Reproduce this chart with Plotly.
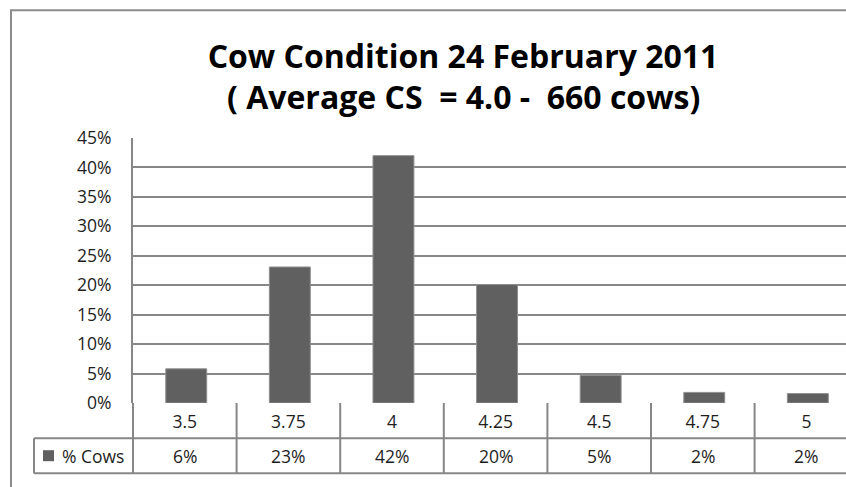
import plotly.graph_objects as go

# ---- data ----
categories = ["3.5", "3.75", "4", "4.25", "4.5", "4.75", "5"]
pct_cows = [5.8, 23.1, 42.0, 20.1, 4.7, 1.8, 1.6]
y_ticks = [0, 5, 10, 15, 20, 25, 30, 35, 40, 45]
series_name = "% Cows"
title_line1 = "Cow Condition 24 February 2011"
title_line2 = "( Average CS\u00a0 = 4.0 -\u00a0 660 cows)"

# ---- layout geometry (window pixels) ----
W, H = 846, 487
L, R, T, B = 133, 0, 137.8, 84.2
PW, PH = W - L - R, H - T - B
CELL = 103.6  # px per category


def px(x):
    return (x - L) / PW


def py(y):
    return (H - B - y) / PH


FONT = "Open Sans"
GRID = "#878787"
BAR = "#606060"
TXT = "#1e1e1e"
FS = 17.5
BAR_W = 0.395

xpos = list(range(len(categories)))

fig = go.Figure()
fig.add_trace(go.Bar(
    x=xpos,
    y=[v / 100 for v in pct_cows],
    name=series_name,
    width=BAR_W,
    offset=-BAR_W / 2 + 0.014,
    marker=dict(color=BAR, line=dict(color="#8f8f8f", width=1)),
    showlegend=False,
    hoverinfo="skip",
))

shapes = []
# outer chart border (cropped at right and bottom)
shapes.append(dict(type="rect", xref="paper", yref="paper",
                   x0=px(11), x1=px(W + 60), y0=py(H + 60), y1=py(10),
                   line=dict(color="#8c8c8c", width=2), fillcolor="rgba(0,0,0,0)"))
# axis line extension through the data table
shapes.append(dict(type="line", xref="paper", yref="paper",
                   x0=0, x1=0, y0=py(473), y1=0,
                   line=dict(color=GRID, width=2)))
# category cell boundaries
for i in range(len(categories)):
    shapes.append(dict(type="line", xref="x", yref="paper",
                       x0=i + 0.5, x1=i + 0.5, y0=py(473), y1=0,
                       line=dict(color=GRID, width=2)))
# table row lines
for yy in (438, 473):
    shapes.append(dict(type="line", xref="paper", yref="paper",
                       x0=px(34), x1=1, y0=py(yy), y1=py(yy),
                       line=dict(color=GRID, width=2)))
# legend cell left border
shapes.append(dict(type="line", xref="paper", yref="paper",
                   x0=px(34), x1=px(34), y0=py(473), y1=py(438),
                   line=dict(color=GRID, width=2)))
# legend key
shapes.append(dict(type="rect", xref="paper", yref="paper",
                   x0=px(43), x1=px(54), y0=py(461), y1=py(450),
                   line=dict(width=0), fillcolor=BAR))

annotations = []
annotations.append(dict(text=series_name, xref="paper", yref="paper",
                        x=px(60), y=py(455.5), xanchor="left", yanchor="middle",
                        showarrow=False, font=dict(family=FONT, size=FS, color=TXT)))
for i, v in enumerate(pct_cows):
    annotations.append(dict(text=f"{round(v)}%", xref="x", yref="paper",
                            x=i, y=py(455.5), xanchor="center", yanchor="middle",
                            showarrow=False, font=dict(family=FONT, size=FS, color=TXT)))
annotations.append(dict(text=f"<b>{title_line2}</b>", xref="paper", yref="paper",
                        x=px(463), y=py(96), xanchor="center", yanchor="middle",
                        showarrow=False, font=dict(family=FONT, size=32, color="#000")))

fig.update_layout(
    width=W, height=H,
    margin=dict(l=L, r=R, t=T, b=B, pad=0),
    paper_bgcolor="white", plot_bgcolor="white",
    title=dict(text=f"<b>{title_line1}</b>", xref="container", yref="container",
               x=463 / W, y=1 - 57 / H, xanchor="center", yanchor="middle",
               font=dict(family=FONT, size=32, color="#000")),
    bargap=0,
    shapes=shapes,
    annotations=annotations,
    xaxis=dict(range=[-0.5, -0.5 + PW / CELL], tickvals=xpos, ticktext=categories,
               ticks="", showgrid=False, zeroline=False, showline=False,
               tickfont=dict(family=FONT, size=FS, color=TXT),
               ticklabelstandoff=6, fixedrange=True),
    yaxis=dict(range=[0, 0.45], tickvals=[t / 100 for t in y_ticks],
               ticktext=[f"{t}%" for t in y_ticks],
               ticks="", showgrid=True, gridcolor=GRID, gridwidth=2,
               zeroline=False, showline=True, linecolor=GRID, linewidth=2,
               tickfont=dict(family=FONT, size=FS, color=TXT),
               ticklabelstandoff=16, fixedrange=True),
)

fig.write_html(
    "out.html",
    config={"displayModeBar": False, "staticPlot": True},
    post_script="document.documentElement.style.overflow='hidden';"
                "document.body.style.margin='0';document.body.style.overflow='hidden';",
)
